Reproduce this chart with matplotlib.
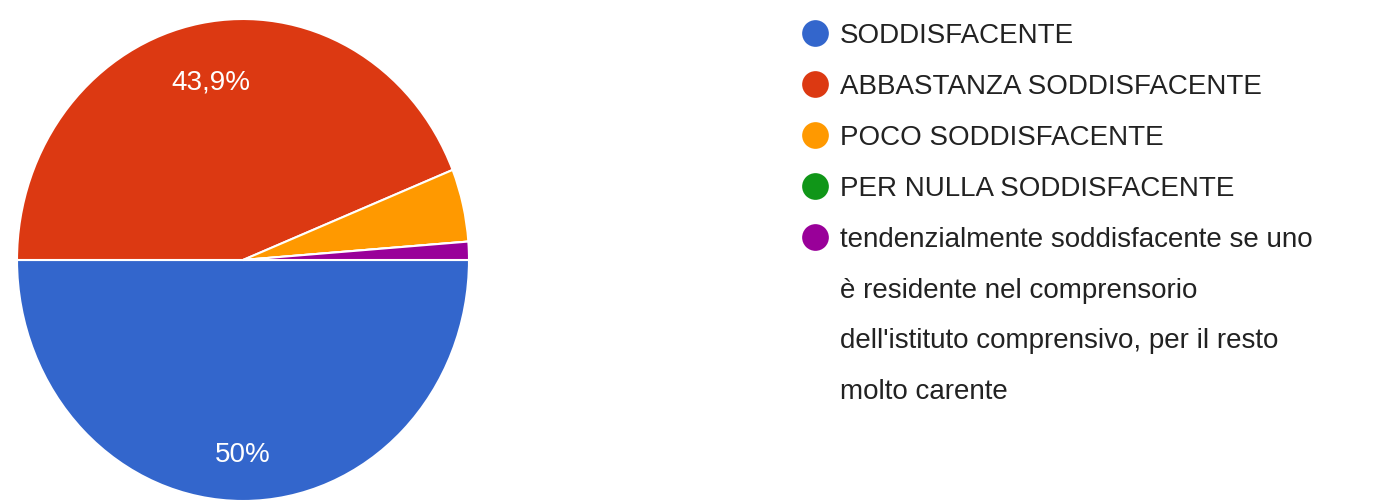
import matplotlib.pyplot as plt

# Risposte (su 82)
categories = ["SODDISFACENTE", "ABBASTANZA SODDISFACENTE", "POCO SODDISFACENTE",
              "PER NULLA SODDISFACENTE",
              "tendenzialmente soddisfacente se uno\nè residente nel comprensorio\ndell'istituto comprensivo, per il resto\nmolto carente"]
counts = [41, 36, 4, 0, 1]
colors = ["#3366cc", "#dc3912", "#ff9900", "#109618", "#990099"]

W, H = 1387, 501
fig = plt.figure(figsize=(W / 100, H / 100), dpi=100)

# pie (slightly stretched vertically like the screenshot)
ax = fig.add_axes([17 / W, 0 / H, 452 / W, 482 / H])

def pct(p):
    if p < 10:
        return ""
    s = f"{p:.1f}".rstrip("0").rstrip(".")
    return s.replace(".", ",") + "%"

wedges, texts, autotexts = ax.pie(counts, colors=colors, startangle=0, counterclock=False,
                                  autopct=pct, pctdistance=0.78,
                                  wedgeprops=dict(edgecolor="white", linewidth=1.5),
                                  textprops=dict(color="white", fontsize=20, family="Liberation Sans"))
# labels sit a bit closer to the centre in the upper half
for t in autotexts:
    x, y = t.get_position()
    if y > 0:
        t.set_position((x * 0.96, y * 0.96))
    else:
        t.set_position((x * 1.04, y * 1.04))
ax.set_aspect("auto")
ax.set_xlim(-1, 1)
ax.set_ylim(-1, 1)
ax.axis("off")

# legend
lg = fig.add_axes([0, 0, 1, 1])
lg.set_xlim(0, W)
lg.set_ylim(H, 0)
lg.axis("off")
y = 33
for name, c in zip(categories, colors):
    lg.scatter([815], [y], s=370, color=c, marker="o", linewidths=0)
    if "\n" in name:
        lg.text(840, y - 10, name, fontsize=20, family="Liberation Sans", color="#222222",
                va="top", linespacing=2.23)
    else:
        lg.text(840, y, name, fontsize=20, family="Liberation Sans", color="#222222",
                va="center_baseline")
    y += 51

fig.savefig("out.png", dpi=100)
